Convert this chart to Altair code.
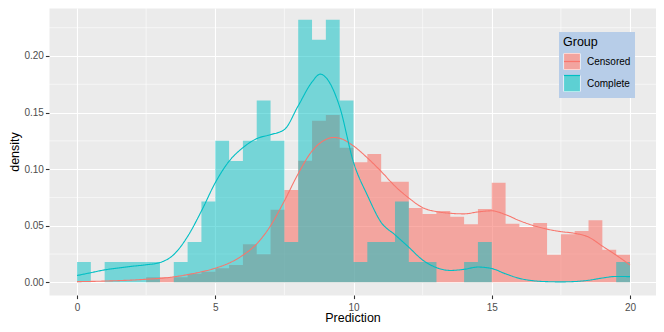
import altair as alt
import pandas as pd

FONT = "Liberation Sans"

groups = ["Censored", "Complete"]
colors = ["#F8766D", "#00BFC4"]

# histogram bins (width 0.5), left edges, last right edge = 20
bin_starts = [0.0, 0.5, 1.0, 1.5, 2.0, 2.5, 3.0, 3.5, 4.0, 4.5,
              5.0, 5.5, 6.0, 6.5, 7.0, 7.5, 8.0, 8.5, 9.0, 9.5,
              10.0, 10.5, 11.0, 11.5, 12.0, 12.5, 13.0, 13.5, 14.0, 14.5,
              15.0, 15.5, 16.0, 16.5, 17.0, 17.5, 18.0, 18.5, 19.0, 19.5]
last_edge = 20.0

censored_hist = [0.0, 0.0, 0.0, 0.0, 0.0, 0.0044, 0.0044, 0.0044, 0.0075, 0.0094,
                 0.0124, 0.0153, 0.0336, 0.0247, 0.0642, 0.0815, 0.1075, 0.1428, 0.1479, 0.119,
                 0.106, 0.1134, 0.0889, 0.0889, 0.0657, 0.0604, 0.063, 0.058, 0.0513, 0.0648,
                 0.088, 0.0518, 0.0489, 0.0524, 0.0244, 0.0424, 0.0453, 0.0548, 0.0288, 0.0244]

complete_hist = [0.0179, 0.0, 0.0179, 0.0179, 0.0179, 0.0179, 0.0, 0.0179, 0.0357, 0.0714,
                 0.125, 0.1071, 0.125, 0.1607, 0.125, 0.0357, 0.2321, 0.2143, 0.2321, 0.1607,
                 0.0179, 0.0357, 0.0357, 0.0714, 0.0179, 0.0179, 0.0, 0.0, 0.0179, 0.0357,
                 0.0, 0.0, 0.0, 0.0, 0.0, 0.0, 0.0, 0.0, 0.0, 0.0179]

# density curves
censored_curve_x = [0.0, 0.5, 1.0, 1.5, 2.0, 2.5, 3.0, 3.5, 4.0, 4.5,
                    5.0, 5.5, 6.0, 6.5, 7.0, 7.5, 8.0, 8.5, 9.0, 9.25, 9.5,
                    10.0, 10.5, 11.0, 11.5, 12.0, 12.5, 13.0, 13.5, 14.0, 14.5,
                    15.0, 15.5, 16.0, 16.5, 17.0, 17.5, 18.0, 18.5, 19.0, 19.5, 20.0]
censored_curve = [0.0006, 0.0008, 0.0011, 0.0015, 0.0020, 0.0027, 0.0035, 0.0048, 0.0068, 0.0093,
                  0.0125, 0.0170, 0.0240, 0.0340, 0.0500, 0.0720, 0.0960, 0.1160, 0.1262, 0.1280, 0.1273,
                  0.1205, 0.1100, 0.0980, 0.0850, 0.0745, 0.0660, 0.0625, 0.0610, 0.0605, 0.0622,
                  0.0632, 0.0598, 0.0545, 0.0502, 0.0470, 0.0448, 0.0433, 0.0400, 0.0320, 0.0240, 0.0153]

complete_curve_x = [0.0, 0.5, 1.0, 1.5, 2.0, 2.5, 3.0, 3.5, 4.0, 4.5,
                    5.0, 5.5, 6.0, 6.5, 7.0, 7.5, 8.0, 8.5, 8.8, 9.0, 9.5,
                    10.0, 10.5, 11.0, 11.5, 12.0, 12.5, 13.0, 13.5, 14.0, 14.5,
                    15.0, 15.5, 16.0, 16.5, 17.0, 17.5, 18.0, 18.5, 19.0, 19.5, 20.0]
complete_curve = [0.0060, 0.0085, 0.0110, 0.0127, 0.0142, 0.0155, 0.0175, 0.0245, 0.0405, 0.0630,
                  0.0880, 0.1070, 0.1190, 0.1270, 0.1305, 0.1350, 0.1560, 0.1770, 0.1840, 0.1810, 0.1550,
                  0.1060, 0.0770, 0.0530, 0.0420, 0.0310, 0.0197, 0.0130, 0.0105, 0.0115, 0.0135,
                  0.0122, 0.0075, 0.0035, 0.0014, 0.0006, 0.0004, 0.0007, 0.0018, 0.0038, 0.0052, 0.0050]

x_ticks = [0, 5, 10, 15, 20]
y_ticks = [0.0, 0.05, 0.10, 0.15, 0.20]
minor_x = [2.5, 7.5, 12.5, 17.5]
minor_y = [0.025, 0.075, 0.125, 0.175, 0.225]

# ---- tables ----
edges = bin_starts + [last_edge]
hist_rows = []
for g, vals in zip(groups, [censored_hist, complete_hist]):
    ys = vals + [vals[-1]]
    for xv, yv in zip(edges, ys):
        hist_rows.append({"x": xv, "density": yv, "Group": g})
hist_df = pd.DataFrame(hist_rows)

curve_rows = []
for g, xs, ys in [("Censored", censored_curve_x, censored_curve),
                  ("Complete", complete_curve_x, complete_curve)]:
    for xv, yv in zip(xs, ys):
        curve_rows.append({"x": xv, "density": yv, "Group": g})
curve_df = pd.DataFrame(curve_rows)

minor_x_df = pd.DataFrame({"x": minor_x})
minor_y_df = pd.DataFrame({"y": minor_y})

xscale = alt.Scale(domain=[-1.013, 20.94], nice=False, zero=False)
yscale = alt.Scale(domain=[-0.0112, 0.2424], nice=False, zero=False)

x_axis = alt.Axis(values=x_ticks, title="Prediction", grid=True, gridColor="white",
                  gridWidth=1.1, domain=False, tickColor="#333333", tickSize=3.6,
                  tickWidth=1.1, labelColor="#4D4D4D", labelFont=FONT, labelFontSize=10,
                  labelPadding=4, titleFont=FONT, titleFontSize=12.5,
                  titleFontWeight="normal", titleColor="black", titlePadding=-1.5)
y_axis = alt.Axis(values=y_ticks, format=".2f", title="density", grid=True,
                  gridColor="white", gridWidth=1.1, domain=False, tickColor="#333333",
                  tickSize=3.6, tickWidth=1.1, labelColor="#4D4D4D", labelFont=FONT,
                  labelFontSize=10, labelPadding=2, titleFont=FONT, titleFontSize=12.5,
                  titleFontWeight="normal", titleColor="black", titlePadding=2)

LX, LY = 510, 24
common_leg = dict(orient="none", legendX=LX, legendY=LY, direction="vertical",
                  title="Group", titleFont=FONT, titleFontSize=12.5,
                  titleFontWeight="normal", titlePadding=4, labelFont=FONT,
                  labelFontSize=10, labelOffset=6, rowPadding=0, padding=4,
                  symbolSize=256, symbolStrokeWidth=1.2)

legend_bg = alt.Legend(**common_leg, fillColor="#B7CDE8", titleColor="black",
                       labelColor="black", symbolType="square",
                       symbolFillColor="#EBEBEB", symbolStrokeColor="white",
                       symbolOpacity=1, zindex=1)
legend_fill = alt.Legend(**common_leg, titleColor="transparent",
                         labelColor="transparent", symbolType="square",
                         symbolStrokeColor="transparent", symbolOpacity=0.6, zindex=2)
legend_line = alt.Legend(**common_leg, titleColor="transparent",
                         labelColor="transparent", symbolType="stroke",
                         symbolOpacity=1, zindex=3)

# first layers carry the axes (later layers leave axis unset so it merges)
minor_v = alt.Chart(minor_x_df).mark_rule(color="white", strokeWidth=0.55).encode(
    x=alt.X("x:Q", scale=xscale, axis=x_axis))
minor_h = alt.Chart(minor_y_df).mark_rule(color="white", strokeWidth=0.55).encode(
    y=alt.Y("y:Q", scale=yscale, axis=y_axis))

fill_enc = alt.Fill("Group:N", scale=alt.Scale(range=colors), legend=legend_fill)

area_cens = alt.Chart(hist_df).transform_filter(
    alt.datum.Group == "Censored").mark_area(
    interpolate="step-after", opacity=0.6).encode(
    x=alt.X("x:Q", scale=xscale),
    y=alt.Y("density:Q", scale=yscale, stack=None),
    fill=fill_enc)
area_comp = alt.Chart(hist_df).transform_filter(
    alt.datum.Group == "Complete").mark_area(
    interpolate="step-after", opacity=0.5).encode(
    x=alt.X("x:Q", scale=xscale),
    y=alt.Y("density:Q", scale=yscale, stack=None),
    fill=fill_enc)

lines = alt.Chart(curve_df).mark_line(interpolate="monotone", strokeWidth=1.1).encode(
    x=alt.X("x:Q", scale=xscale),
    y=alt.Y("density:Q", scale=yscale),
    stroke=alt.Stroke("Group:N", scale=alt.Scale(domain=groups, range=colors),
                      legend=legend_line),
    strokeDash=alt.StrokeDash("Group:N", scale=alt.Scale(range=[[1, 0], [1, 0]]),
                              legend=legend_bg),
    detail="Group:N")

chart = alt.layer(minor_v, minor_h, area_cens, area_comp, lines).properties(
    width=607, height=287,
    padding={"left": 41, "top": 0, "right": 0, "bottom": 29},
    autosize=alt.AutoSizeParams(type="none"),
    background="white",
).configure_view(fill="#EBEBEB", stroke="transparent")

chart.save("out.html", embed_options={"renderer": "svg", "actions": False})
